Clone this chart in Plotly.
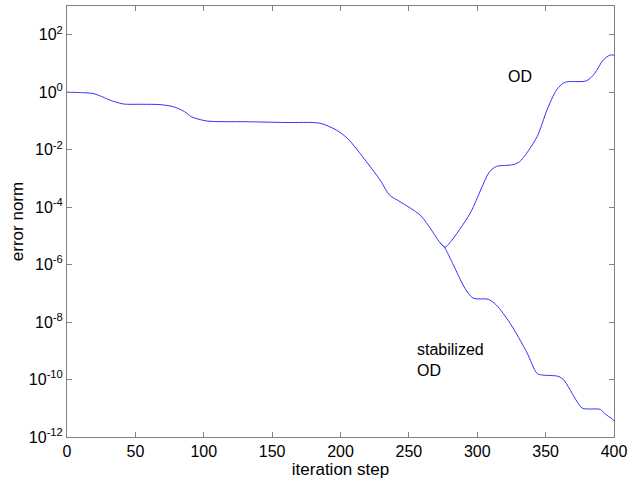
import plotly.graph_objects as go

# shared part of both runs (iteration, error norm)
common_x = [0, 10, 19, 25, 31, 41, 55, 68, 78, 86, 91, 102, 131, 160, 185, 197, 205, 219, 229, 236, 243.5, 258, 264, 273]
common_y = [1.0, 0.97, 0.9, 0.72, 0.54, 0.39, 0.38, 0.37, 0.31, 0.21, 0.14, 0.10, 0.094, 0.088, 0.083,
            0.048, 0.025, 3.8e-3, 8.7e-4, 2.6e-4, 1.55e-4, 5.4e-5, 2.4e-5, 5.6e-6]

# OD branch
od_x = [273, 276.4, 280, 294.7, 309, 314, 326, 331, 343.7, 351, 358, 364, 380, 386, 392, 397, 400]
od_y = [5.6e-6, 4.0e-6, 5.8e-6, 6.0e-5, 1.7e-3, 2.6e-3, 3.0e-3, 3.8e-3, 0.028, 0.24, 1.2, 2.2, 2.5, 4.6, 13, 19.5, 19.5]

# stabilized OD branch
st_x = [273, 276, 282, 291, 297, 308, 314, 324, 336, 343.6, 347, 359, 363, 373, 377, 390, 393, 399, 400]
st_y = [5.6e-6, 4.0e-6, 1.1e-6, 1.5e-7, 6.8e-8, 6.2e-8, 3.9e-8, 9.1e-9, 9.3e-10, 1.66e-10, 1.45e-10,
        1.3e-10, 1.0e-10, 1.7e-11, 1.0e-11, 9.1e-12, 6.6e-12, 4.1e-12, 3.5e-12]

x_ticks = [0, 50, 100, 150, 200, 250, 300, 350, 400]
y_ticks = [1e-12, 1e-10, 1e-8, 1e-6, 1e-4, 1e-2, 1e0, 1e2]
y_ticktext = ["10<sup>-12</sup>", "10<sup>-10</sup>", "10<sup>-8</sup>", "10<sup>-6</sup>",
              "10<sup>-4</sup>", "10<sup>-2</sup>", "10<sup>0</sup>", "10<sup>2</sup>"]

line = dict(color="#3333ff", width=1, shape="spline", smoothing=0.8)
fig = go.Figure()
for xs, ys in [(common_x + od_x[1:], common_y + od_y[1:]), (st_x, st_y)]:
    fig.add_trace(go.Scatter(x=xs, y=ys, mode="lines", line=line, showlegend=False, hoverinfo="skip"))

font = dict(family="Liberation Sans, Arial, sans-serif", size=16, color="black")
tfont = dict(family="Liberation Sans, Arial, sans-serif", size=17, color="black")
fig.update_layout(
    width=630, height=481,
    margin=dict(l=67, r=16, t=6, b=44),
    paper_bgcolor="white", plot_bgcolor="white",
    font=font,
    xaxis=dict(range=[0, 400], tickvals=x_ticks, ticks="inside", ticklen=5, tickcolor="#808080",
               showline=True, linecolor="#808080", linewidth=1, mirror="ticks", showgrid=False,
               zeroline=False, automargin=False,
               title=dict(text="iteration step", standoff=0, font=tfont), tickfont=font),
    yaxis=dict(type="log", range=[-12, 3], tickvals=y_ticks, ticktext=y_ticktext, ticks="inside", ticklen=5,
               tickcolor="#808080", showline=True, linecolor="#808080", linewidth=1, mirror="ticks",
               showgrid=False, zeroline=False, automargin=False,
               title=dict(text="error norm", standoff=0, font=tfont), tickfont=font),
    annotations=[
        dict(x=331, y=0.56, xref="x", yref="y", text="OD", showarrow=False, font=font),
        dict(x=254.5, y=-9.32, xref="x", yref="y", text="stabilized<br>OD", showarrow=False,
             xanchor="left", align="left", font=font),
    ],
)
fig.write_html("out.html")
